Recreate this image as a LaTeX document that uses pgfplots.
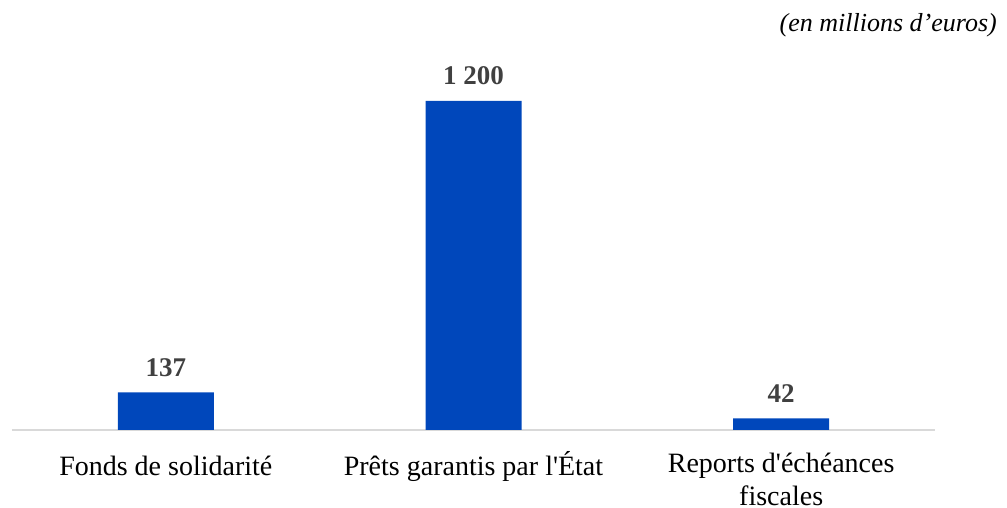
\documentclass[border=0pt]{standalone}
\usepackage{fontspec}
\setmainfont{Liberation Serif}[Ligatures=TeXOff]
\usepackage{pgfplots}
\pgfplotsset{compat=1.18}
\definecolor{barblue}{RGB}{0,71,187}
\definecolor{axgray}{RGB}{217,217,217}
\definecolor{lblgray}{RGB}{64,64,64}
\begin{document}
\begin{tikzpicture}[x=1pt,y=1pt]
\path[use as bounding box] (0,0) rectangle (1007,508);
\begin{axis}[
  at={(12pt,78pt)}, anchor=south west,
  scale only axis, width=923pt, height=430pt,
  xmin=-0.5, xmax=2.5, ymin=0, ymax=1568,
  clip=false,
  axis x line*=bottom, axis y line=none,
  x axis line style={draw=axgray, line width=1.5pt, -},
  xtick={0,1,2}, xtick style={draw=none},
  xticklabels={Fonds de solidarité, Prêts garantis par l'État, {\raisebox{3pt}{\begin{tabular}[t]{@{}c@{}}Reports d'échéances\\fiscales\end{tabular}}}},
  xticklabel style={anchor=base, inner sep=0pt,
     font=\fontsize{28}{33}\selectfont, text=black, yshift=-41pt},
  ytick=\empty,
  ybar, bar width=96pt,
  point meta=explicit symbolic,
  nodes near coords={\pgfplotspointmeta},
  nodes near coords style={anchor=base, inner sep=0pt, yshift=16pt,
     font=\fontsize{27}{30}\selectfont\bfseries, text=lblgray},
]
\addplot[fill=barblue, draw=none] coordinates {(0,137)[137] (1,1200)[1 200] (2,42)[42]};
\end{axis}
\node[anchor=base east, inner sep=0pt, font=\fontsize{26}{30}\selectfont\itshape] at (997,476) {(en millions d’euros)};
\end{tikzpicture}
\end{document}
